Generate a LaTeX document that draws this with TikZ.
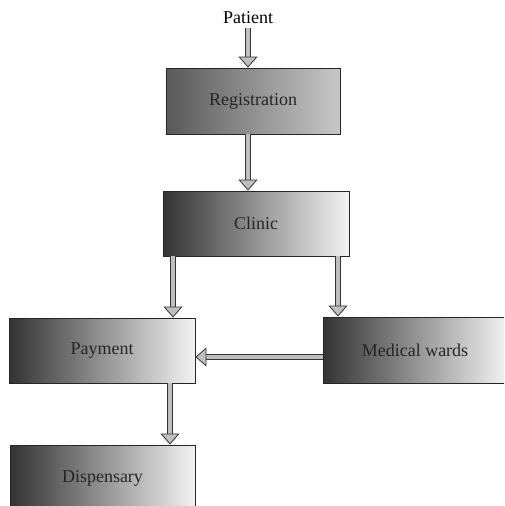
\documentclass[tikz,border=0pt]{standalone}
\usepackage{fontspec}
\setmainfont{Liberation Serif}
\usetikzlibrary{arrows.meta,positioning}

\tikzset{
  stage/.style={draw=black!85, line width=0.8pt, minimum width=186pt, minimum height=65pt,
    left color=black!80, right color=black!5, font=\rmfamily\fontsize{18}{20}\selectfont, text=black!85},
  flow/.style={draw=black!80, line width=0.8pt, double=black!25, double distance=4pt,
    -{Triangle[open, fill=black!25, width=19pt, length=11pt, line width=0.8pt]}}
}

\begin{document}
\begin{tikzpicture}[x=1pt, y=-1pt]
    % page size of the reference
    \useasboundingbox (0,0) rectangle (504,506);
    \clip (0,0) rectangle (504,506);

    % the boxes
    \node[font=\rmfamily\fontsize{18}{20}\selectfont] (patient) at (248,18) {Patient};
    \node[stage, minimum width=174pt, minimum height=66pt, left color=black!65, right color=black!22] (reg) at (253,101) {Registration};
    \node[stage] (clinic) at (256,223.5) {Clinic};
    \node[stage] (payment) at (102,350.5) {Payment};
    \node[stage, minimum width=184pt, minimum height=66pt] (wards) at (415,350) {Medical wards};
    \node[stage, minimum width=185pt, minimum height=66pt] (disp) at (102.5,478) {Dispensary};

    % points where the arrows leave and land
    \coordinate (cl) at (173,0);
    \coordinate (cr) at (338,0);
    \coordinate (pd) at (170,0);
    \coordinate (wp) at (0,357);

    % arrows
    \draw[flow] (patient.south -| patient) -- (reg.north -| patient);
    \draw[flow] (reg.south -| patient) -- (clinic.north -| patient);
    \draw[flow] (clinic.south -| cl) -- (payment.north -| cl);
    \draw[flow] (clinic.south -| cr) -- (wards.north -| cr);
    \draw[flow] (wards.west |- wp) -- (payment.east |- wp);
    \draw[flow] (payment.south -| pd) -- (disp.north -| pd);
\end{tikzpicture}
\end{document}
